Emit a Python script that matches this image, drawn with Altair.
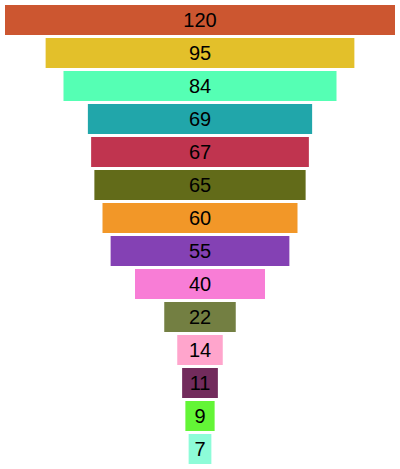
import altair as alt
import pandas as pd

stages = ["S1", "S2", "S3", "S4", "S5", "S6", "S7", "S8", "S9", "S10", "S11", "S12", "S13", "S14"]
values = [120, 95, 84, 69, 67, 65, 60, 55, 40, 22, 14, 11, 9, 7]
colors = ["#CC5630", "#E3C02A", "#55FFB4", "#21A6AA", "#C0344F", "#626B19", "#F29728",
          "#8441B4", "#F87DD6", "#737F42", "#FFA5CC", "#722B5C", "#63F536", "#8DFCD8"]

df = pd.DataFrame({"stage": stages, "value": values, "color": colors})
df["lo"] = -df["value"] / 2
df["hi"] = df["value"] / 2

x = alt.X("lo:Q", scale=alt.Scale(domain=[-60, 60], nice=False, zero=False), axis=None)
y = alt.Y("stage:N", sort=stages, axis=None,
          scale=alt.Scale(paddingInner=3 / 33, paddingOuter=0))

bars = alt.Chart(df).mark_bar().encode(
    x=x, x2="hi:Q", y=y,
    color=alt.Color("color:N", scale=None, legend=None),
)

labels = alt.Chart(df).mark_text(
    font="Liberation Sans", fontSize=20, color="black", baseline="middle", dy=1
).encode(
    x=alt.value(195), y=y, text="value:Q"
)

chart = alt.layer(bars, labels).properties(
    width=390, height=459, background="white"
).configure_view(stroke=None, strokeWidth=0)

chart.save("out.html", embed_options={"renderer": "svg", "actions": False})
